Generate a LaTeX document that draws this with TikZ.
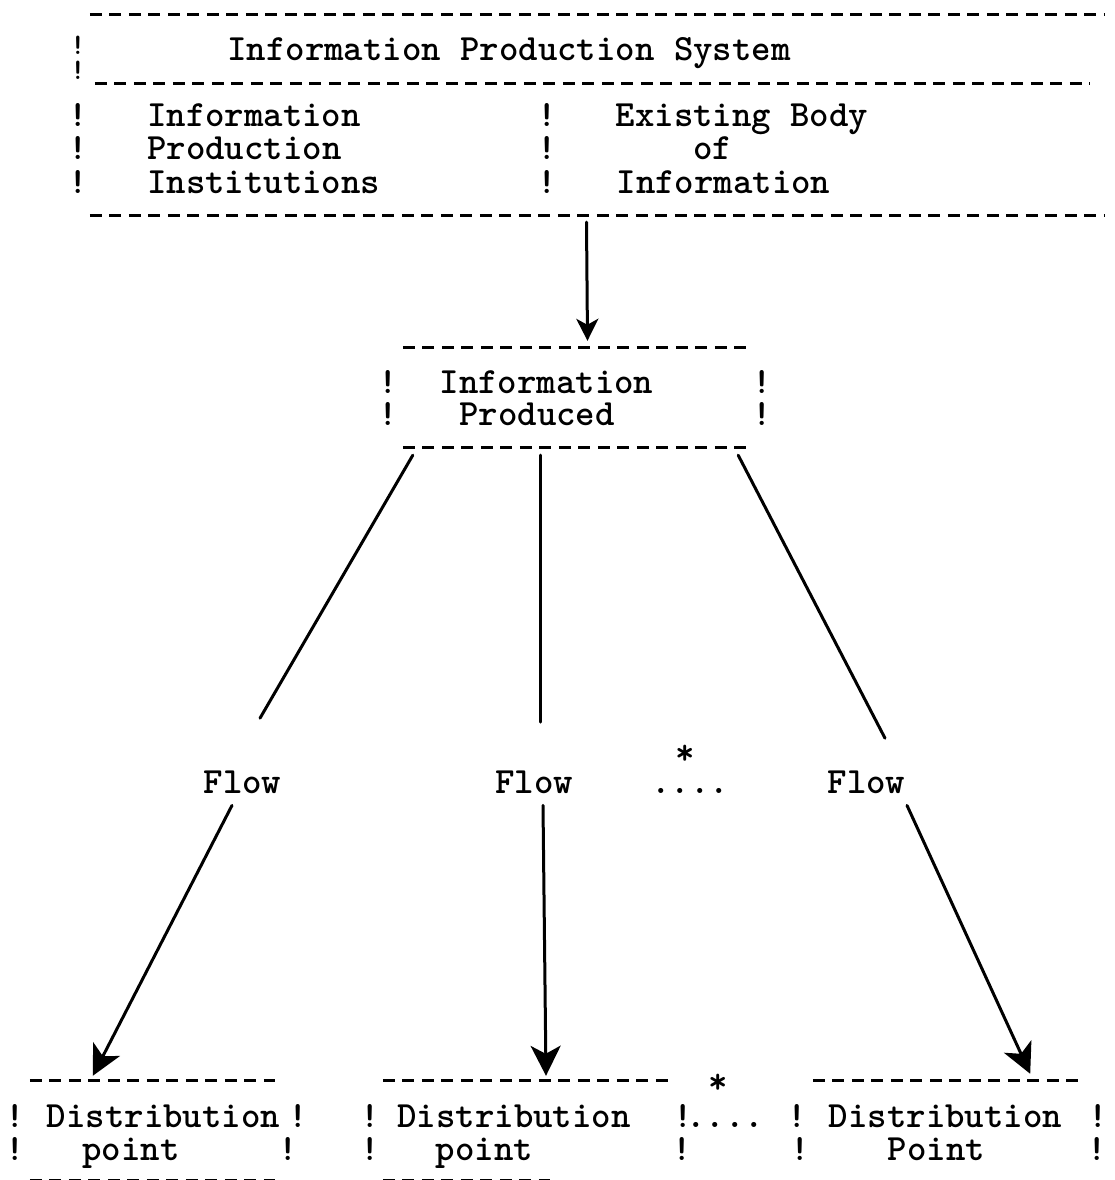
\documentclass[tikz,border=0pt]{standalone}
\usetikzlibrary{arrows.meta}
\begin{document}
\begin{tikzpicture}[x=1pt,y=-1pt,
  tw/.style={font=\fontsize{37}{33}\selectfont\ttfamily\bfseries, inner sep=0pt, anchor=base},
  area/.style={draw=none, inner sep=0pt, minimum width=#1},
  dashrule/.style={line width=3pt, dash pattern=on 12pt off 7.5pt},
  flowline/.style={line width=3pt, line cap=round},
  bigtip/.style={-{Stealth[length=30pt,width=30pt,inset=8pt]}},
  smalltip/.style={-{Stealth[length=22pt,width=22pt,inset=6pt]}},
]
\useasboundingbox (0,0) rectangle (1115,1180);
\fill[white] (0,0) rectangle (1115,1180);
\clip (0,0) rectangle (1115,1180);

% ---------- Information Production System ----------
\node[area=1015pt, minimum height=200pt] (ips) at (597.5,115) {};
\draw[dashrule] (ips.north west) -- (ips.north east);
\draw[dashrule] ([xshift=5pt,yshift=-69pt]ips.north west) -- ([xshift=-15pt,yshift=-69pt]ips.north east);
\draw[dashrule] (ips.south west) -- (ips.south east);
\node[tw, scale=0.8] (ipsL1) at (78,55) {!};
\node[tw, scale=0.8] (ipsL2) at (78,80) {!};
\foreach \y [count=\i from 3] in {127,160,193}
  \node[tw] (ipsL\i) at (78,\y) {!};
\foreach \y [count=\i] in {127,160,193}
  \node[tw] (ipsM\i) at (547,\y) {!};
\node[tw] (title) at (509,61) {Information Production System};
\node[tw] (inst1) at (254,127) {Information};
\node[tw] (inst2) at (244.3,160) {Production};
\node[tw] (inst3) at (263.7,193) {Institutions};
\node[tw] (body1) at (742,127) {Existing Body};
\node[tw] (body2) at (712.5,160) {of};
\node[tw] (body3) at (723.5,193) {Information};

% ---------- Information Produced ----------
\node[area=347pt, minimum height=99pt] (prod) at (576.5,397.5) {};
\draw[dashrule] (prod.north west) -- (prod.north east);
\draw[dashrule] (prod.south west) -- (prod.south east);
\foreach \y [count=\i] in {393,425} {
  \node[tw] (prodL\i) at (388,\y) {!};
  \node[tw] (prodR\i) at (762,\y) {!};
}
\node[tw] (prod1) at (546.5,393) {Information};
\node[tw] (prod2) at (537,425) {Produced};

% ---------- flow labels ----------
\node[tw] (flowL) at (242.5,793) {Flow};
\node[tw] (flowM) at (534,793) {Flow};
\node[tw] (flowR) at (866.5,793) {Flow};
\node[tw] (dots1) at (690,793) {....};
\node[tw] (star1) at (685,764) {*};

% ---------- distribution points ----------
\node[area=245pt, minimum height=99pt] (dist1) at (152.5,1130.5) {};
\node[area=285pt, minimum height=99pt] (dist2) at (525.5,1130.5) {};
\node[area=272pt, minimum height=99pt] (dist3) at (949,1130.5) {};
\draw[dashrule] (dist1.north west) -- (dist1.north east);
\draw[dashrule] (dist1.south west) -- (dist1.south east);
\draw[dashrule] (dist2.north west) -- (dist2.north east);
\draw[dashrule] (dist2.south west) -- ([xshift=-118pt]dist2.south east);
\draw[dashrule] (dist3.north west) -- (dist3.north east);

\node[tw] (d1a) at (15,1127) {!};
\node[tw] (d1b) at (298,1127) {!};
\node[tw] (d1c) at (15,1160) {!};
\node[tw] (d1d) at (288,1160) {!};
\node[tw] (d2a) at (370,1127) {!};
\node[tw] (d2b) at (683,1127) {!};
\node[tw] (d2c) at (370,1160) {!};
\node[tw] (d2d) at (682,1160) {!};
\node[tw] (d3a) at (797,1127) {!};
\node[tw] (d3b) at (1098,1127) {!};
\node[tw] (d3c) at (800,1160) {!};
\node[tw] (d3d) at (1097,1160) {!};

\node[tw] (dist1t) at (163.5,1127) {Distribution};
\node[tw] (dist1p) at (131,1160) {point};
\node[tw] (dist2t) at (514,1127) {Distribution};
\node[tw] (dist2p) at (484.5,1160) {point};
\node[tw] (dist3t) at (945.5,1127) {Distribution};
\node[tw] (dist3p) at (936.5,1160) {Point};
\node[tw] (dots2) at (725,1127) {....};
\node[tw] (star2) at (718,1093) {*};

% ---------- connectors ----------
\draw[flowline, smalltip] ([xshift=-11pt,yshift=-7pt]ips.south) -- ([xshift=11pt,yshift=7pt]prod.north);

\draw[flowline] ([xshift=10pt,yshift=-8pt]prod.south west) -- ([xshift=17.5pt,yshift=52pt]flowL.north);
\draw[flowline] ([xshift=-36.5pt,yshift=-8pt]prod.south) -- ([xshift=6pt,yshift=48pt]flowM.north);
\draw[flowline] ([xshift=-12pt,yshift=-8pt]prod.south east) -- ([xshift=18.5pt,yshift=32pt]flowR.north);

\draw[flowline, bigtip] ([xshift=-10.5pt,yshift=-12pt]flowL.south) -- ([xshift=63pt,yshift=5pt]dist1.north west);
\draw[flowline, bigtip] ([xshift=9pt,yshift=-12pt]flowM.south) -- ([xshift=20.5pt,yshift=5pt]dist2.north);
\draw[flowline, bigtip] ([xshift=40.5pt,yshift=-12pt]flowR.south) -- ([xshift=-55pt,yshift=7pt]dist3.north east);
\end{tikzpicture}
\end{document}
